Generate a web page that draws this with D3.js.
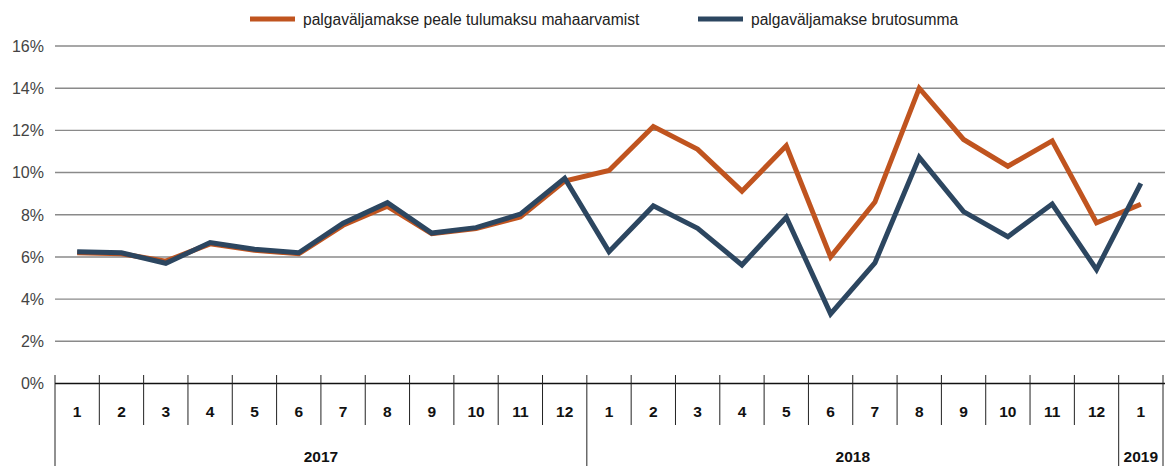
<!DOCTYPE html>
<html>
<head>
<meta charset="utf-8">
<script src="https://cdn.jsdelivr.net/npm/d3@7"></script>
<style>
  body { margin: 0; background: #fff; }
  svg { display: block; font-family: "Liberation Sans", Arial, sans-serif; }
</style>
</head>
<body>
<div id="chart"></div>
<script>
// kuud, aastad ja kaks aegrida (% muutus)
const months = ["1","2","3","4","5","6","7","8","9","10","11","12",
                "1","2","3","4","5","6","7","8","9","10","11","12","1"];
const yearLabels = ["2017", "2018", "2019"];
const yearCounts = [12, 12, 1];
const yTicks = [0, 2, 4, 6, 8, 10, 12, 14, 16];

const netto = [6.2, 6.15, 5.8, 6.62, 6.32, 6.15, 7.5, 8.4, 7.1, 7.35, 7.9, 9.6,
               10.1, 12.18, 11.1, 9.12, 11.27, 6.0, 8.6, 14.0, 11.57, 10.3, 11.5, 7.62, 8.5];
const brutto = [6.25, 6.2, 5.7, 6.68, 6.36, 6.2, 7.6, 8.57, 7.13, 7.39, 8.03, 9.73,
                6.25, 8.42, 7.36, 5.62, 7.88, 3.3, 5.72, 10.72, 8.15, 6.96, 8.51, 5.4, 9.49];

const seriesNames = ["palgaväljamakse peale tulumaksu mahaarvamist", "palgaväljamakse brutosumma"];
const colors = ["#c0541f", "#2c4660"];

const W = 1165, H = 466;
const plotL = 55, plotR = 1163, plotT = 46, zeroY = 383.5;

const svg = d3.select("#chart").append("svg").attr("width", W).attr("height", H);

const x = d3.scaleBand().domain(d3.range(months.length)).range([plotL, plotR]).padding(0);
const y = d3.scaleLinear().domain([0, 16]).range([zeroY, plotT]);

// ruudustik
svg.append("g").selectAll("line").data(yTicks.filter((d) => d > 0)).join("line")
  .attr("x1", plotL).attr("x2", W)
  .attr("y1", (d) => y(d)).attr("y2", (d) => y(d))
  .attr("stroke", "#8a8a8a").attr("stroke-width", 1.4);

// y-telje sildid
svg.append("g").selectAll("text").data(yTicks).join("text")
  .attr("x", 44).attr("y", (d) => y(d)).attr("dy", "0.36em")
  .attr("text-anchor", "end").attr("font-size", 16).attr("fill", "#444")
  .text((d) => d + "%");

// jooned: oranž all, sinine peal
const line = d3.line().x((d, i) => x(i) + x.bandwidth() / 2).y((d) => y(d));
[netto, brutto].forEach((s, k) => {
  svg.append("path").datum(s)
    .attr("d", line).attr("fill", "none")
    .attr("stroke", colors[k]).attr("stroke-width", 5)
    .attr("stroke-linejoin", "miter").attr("stroke-miterlimit", 10);
});

// x-telg
svg.append("line").attr("x1", plotL).attr("x2", W).attr("y1", zeroY).attr("y2", zeroY)
  .attr("stroke", "#111").attr("stroke-width", 1.5);

const tickTop = 375, monthBottom = 425;
const yearStarts = [0];
yearCounts.forEach((c, i) => yearStarts.push(yearStarts[i] + c));

// kuu eraldajad
svg.append("g").selectAll("line").data(d3.range(months.length + 1)).join("line")
  .attr("x1", (i) => i < months.length ? x(i) : plotR)
  .attr("x2", (i) => i < months.length ? x(i) : plotR)
  .attr("y1", tickTop)
  .attr("y2", (i) => yearStarts.includes(i) ? H : monthBottom)
  .attr("stroke", "#222").attr("stroke-width", 1);

svg.append("g").selectAll("text").data(months).join("text")
  .attr("x", (d, i) => x(i) + x.bandwidth() / 2).attr("y", 411).attr("dy", "0.36em")
  .attr("text-anchor", "middle").attr("font-size", 15.5).attr("font-weight", "bold").attr("fill", "#111")
  .text((d) => d);

svg.append("g").selectAll("text").data(yearLabels).join("text")
  .attr("x", (d, i) => {
    const a = x(yearStarts[i]);
    const b = yearStarts[i + 1] < months.length ? x(yearStarts[i + 1]) : plotR;
    return (a + b) / 2;
  })
  .attr("y", 456).attr("dy", "0.36em")
  .attr("text-anchor", "middle").attr("font-size", 15.5).attr("font-weight", "bold").attr("fill", "#111")
  .text((d) => d);

// legend
const legendX = [250, 698];
const lg = svg.append("g").selectAll("g").data(seriesNames).join("g")
  .attr("transform", (d, i) => `translate(${legendX[i]},19)`);
lg.append("line").attr("x1", 0).attr("x2", 45).attr("y1", 0).attr("y2", 0)
  .attr("stroke", (d, i) => colors[i]).attr("stroke-width", 5);
lg.append("text").attr("x", 53).attr("dy", "0.36em")
  .attr("font-size", 15.6).attr("fill", "#222").text((d) => d);
</script>
</body>
</html>
